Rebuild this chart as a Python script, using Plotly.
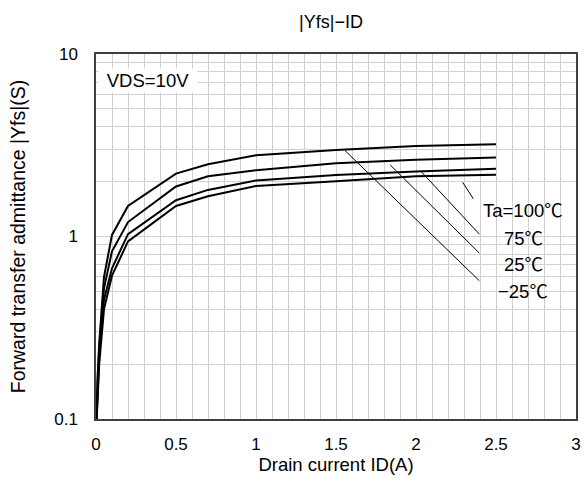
import math
import plotly.graph_objects as go

# ---- data ----
current_a = [0.004, 0.01, 0.02, 0.05, 0.1, 0.2, 0.5, 0.7, 1.0, 1.5, 2.0, 2.5]
yfs_100c = [0.1, 0.17, 0.26, 0.60, 1.02, 1.47, 2.21, 2.49, 2.79, 2.98, 3.13, 3.20]
yfs_75c = [0.1, 0.16, 0.24, 0.52, 0.83, 1.20, 1.88, 2.14, 2.31, 2.52, 2.63, 2.71]
yfs_25c = [0.1, 0.15, 0.22, 0.45, 0.67, 1.03, 1.58, 1.80, 2.03, 2.17, 2.27, 2.35]
yfs_m25c = [0.1, 0.14, 0.20, 0.40, 0.61, 0.94, 1.47, 1.66, 1.89, 2.01, 2.14, 2.18]

series_labels = ["Ta=100℃", "75℃", "25℃", "−25℃"]
label_x = [2.67, 2.67, 2.67, 2.67]
label_y = [1.38, 0.977, 0.703, 0.50]

leader_x0 = [2.292, 2.036, 1.838, 1.556]
leader_y0 = [1.98, 2.25, 2.47, 2.96]
leader_x1 = [2.358, 2.396, 2.396, 2.396]
leader_y1 = [1.61, 1.03, 0.811, 0.572]

x_tickvals = [0, 0.5, 1, 1.5, 2, 2.5, 3]
x_ticktext = ["0", "0.5", "1", "1.5", "2", "2.5", "3"]

y_tickvals = [0.1, 0.2, 0.3, 0.4, 0.5, 0.6, 0.7, 0.8, 0.9,
              1, 2, 3, 4, 5, 6, 7, 8, 9, 10]
y_ticktext = ["0.1", "", "", "", "", "", "", "", "",
              "1", "", "", "", "", "", "", "", "", "10"]

condition_text = "VDS=10V"
condition_x = 0.325
condition_y = 7.2

title_text = "|Yfs|−ID"
x_title = "Drain current ID(A)"
y_title = "Forward transfer admittance |Yfs|(S)"

FONT = "Liberation Sans, Arial, Noto Sans CJK JP, sans-serif"
GRID = "#d0d0d0"
AXIS = "#404040"

fig = go.Figure()
for ys in [yfs_100c, yfs_75c, yfs_25c, yfs_m25c]:
    fig.add_trace(go.Scatter(x=current_a, y=ys, mode="lines",
                             line=dict(color="black", width=2),
                             hoverinfo="skip"))

for i in range(len(leader_x0)):
    fig.add_trace(go.Scatter(x=[leader_x0[i], leader_x1[i]],
                             y=[leader_y0[i], leader_y1[i]], mode="lines",
                             line=dict(color="black", width=1),
                             hoverinfo="skip"))

for t, lx, ly in zip(series_labels, label_x, label_y):
    fig.add_annotation(x=lx, y=math.log10(ly), xref="x", yref="y",
                       text=t, showarrow=False,
                       font=dict(family=FONT, size=18.5, color="black"),
                       xanchor="center", yanchor="middle")

fig.add_annotation(x=condition_x, y=math.log10(condition_y), xref="x", yref="y",
                   text=condition_text, showarrow=False, bgcolor="white",
                   width=96, borderpad=1,
                   font=dict(family=FONT, size=18.5, color="black"),
                   xanchor="center", yanchor="middle")

fig.update_layout(
    width=584, height=492,
    margin=dict(l=96, r=8, t=54, b=73),
    paper_bgcolor="white", plot_bgcolor="white",
    showlegend=False,
    font=dict(family=FONT, size=17, color="black"),
    title=dict(text=title_text, x=331 / 584, xref="container", xanchor="center",
               y=1 - 22 / 492, yref="container", yanchor="middle",
               font=dict(family=FONT, size=18, color="black")),
    xaxis=dict(range=[0, 3], tickmode="array", tickvals=x_tickvals,
               ticktext=x_ticktext, showgrid=True, gridcolor=GRID, gridwidth=1,
               minor=dict(dtick=0.1, tick0=0, showgrid=True, gridcolor=GRID,
                          gridwidth=1),
               showline=True, mirror=True, linecolor=AXIS, linewidth=1.5,
               zeroline=False, ticks="", ticklabelstandoff=9,
               automargin=False,
               tickfont=dict(family=FONT, size=17),
               title=dict(text=x_title, standoff=1,
                          font=dict(family=FONT, size=18.5))),
    yaxis=dict(type="log", range=[-1, 1], tickmode="array",
               tickvals=y_tickvals, ticktext=y_ticktext,
               showgrid=True, gridcolor=GRID, gridwidth=1,
               showline=True, mirror=True, linecolor=AXIS, linewidth=1.5,
               zeroline=False, ticks="", ticklabelstandoff=13,
               automargin=False,
               tickfont=dict(family=FONT, size=17),
               title=dict(text=y_title, standoff=23,
                          font=dict(family=FONT, size=19.5))),
)

fig.write_html("out.html",
               config={"displayModeBar": False},
               post_script="document.body.style.margin='0';"
                           "document.body.style.padding='0';")
